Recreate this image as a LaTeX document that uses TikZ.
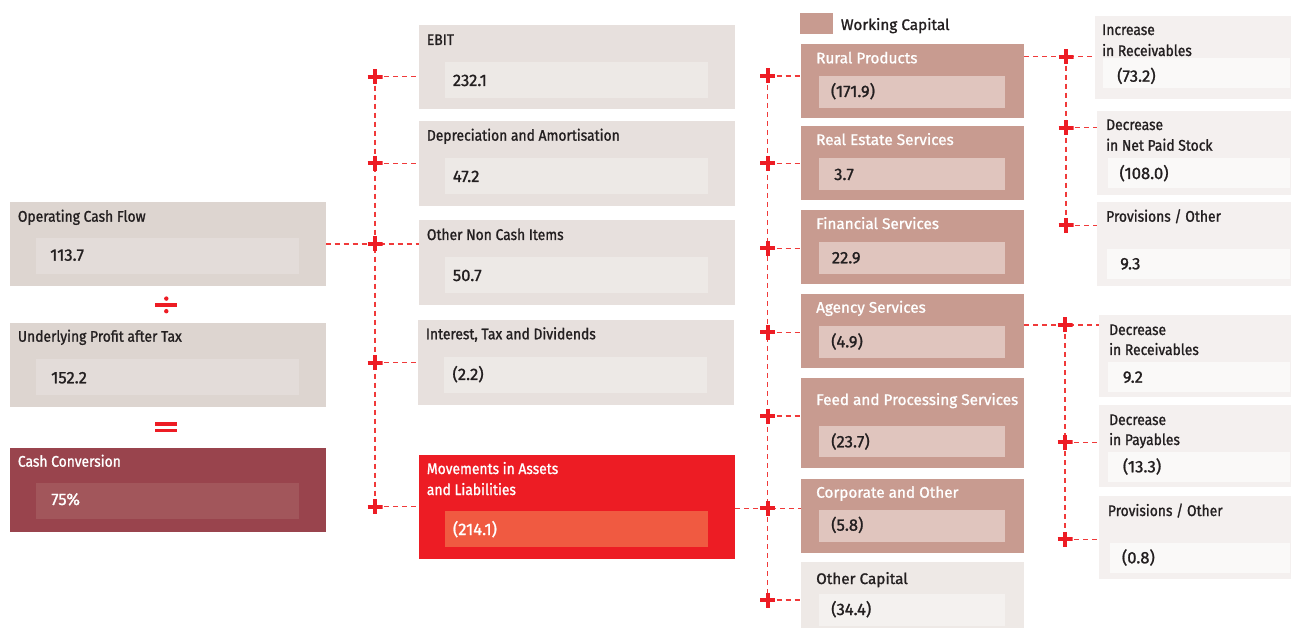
\documentclass[tikz,border=0pt]{standalone}
\usepackage{fontspec}
\setmainfont{Fira Sans}[FakeBold=1.2]
\newfontfamily\condfont[FakeStretch=0.9,FakeBold=1.2]{Fira Sans}
\newfontfamily\regfont[FakeBold=1.2]{Fira Sans}
\usetikzlibrary{backgrounds}
\definecolor{ink}{HTML}{231F20}
\definecolor{cL}{HTML}{DDD5D0}
\definecolor{cLi}{HTML}{E3DCD9}
\definecolor{cM}{HTML}{E7E0DD}
\definecolor{cMi}{HTML}{EDE9E6}
\definecolor{cCC}{HTML}{99444D}
\definecolor{cCCi}{HTML}{A2565B}
\definecolor{cMov}{HTML}{ED1C24}
\definecolor{cMovi}{HTML}{F05A41}
\definecolor{cWC}{HTML}{C89B90}
\definecolor{cWCi}{HTML}{E0C5BE}
\definecolor{cOC}{HTML}{EEE9E6}
\definecolor{cOCi}{HTML}{F4F1EF}
\definecolor{cR}{HTML}{F4F0EF}
\definecolor{cRi}{HTML}{FAF9F8}
\definecolor{dashred}{HTML}{F03A3A}
\definecolor{plusred}{HTML}{ED1C24}
\newcommand\bxx[6]{\node[boxn,#2,minimum width={(#5)-(#3)},minimum height={(#6)-(#4)}] (#1) at (#3,#4) {};}
\newcommand\lbl[5]{\node[#2] (#1) at (#3,#4) {#5};}
\begin{document}
\begin{tikzpicture}[x=1pt,y=-1pt,
  boxn/.style={anchor=north west,inner sep=0pt,outer sep=0pt,draw=none},
  tl/.style={anchor=base west,inner sep=0pt,font=\condfont\fontsize{15.4}{17}\selectfont,text=ink},
  wl/.style={anchor=base west,inner sep=0pt,font=\regfont\fontsize{15.3}{17}\selectfont,text=white},
  vl/.style={anchor=base west,inner sep=0pt,font=\regfont\fontsize{16.6}{18}\selectfont,text=ink},
  wt/.style={text=white},
  conn/.style={draw=dashred,line width=1.3pt,dash pattern=on 5pt off 4pt},
  plusn/.style={minimum size=15pt,inner sep=0pt,outer sep=0pt,
    path picture={\draw[line width=4pt,plusred] (path picture bounding box.west)--(path picture bounding box.east)
      (path picture bounding box.north)--(path picture bounding box.south);}}]
\useasboundingbox (0,0) rectangle (1291,628);
% ---------- left column
\bxx{ocf}{fill=cL}{10}{202}{325.7}{285.7}
\bxx{ocfi}{fill=cLi}{36}{238}{299}{273.7}
\lbl{ocft}{tl}{17.7}{221.7}{Operating Cash Flow}
\lbl{ocfv}{vl}{50}{260.7}{113.7}
\bxx{upat}{fill=cL}{10}{323}{325.7}{406.7}
\bxx{upati}{fill=cLi}{36}{359}{299}{394.7}
\lbl{upatt}{tl}{17.7}{341.7}{Underlying Profit after Tax}
\lbl{upatv}{vl}{51}{383.3}{152.2}
\bxx{cc}{fill=cCC}{10}{448}{325.7}{531.7}
\bxx{cci}{fill=cCCi}{36}{483}{299}{519}
\lbl{cct}{tl,wt}{17.7}{466.7}{Cash Conversion}
\lbl{ccv}{vl,wt}{51}{505}{75\%}
% operators
\fill[plusred] (155.3,303.4) rectangle (177.3,306.6);
\fill[plusred] (166.3,298.6) circle (2.2pt);
\fill[plusred] (166.3,311.2) circle (2.2pt);
\fill[plusred] (155.3,422.3) rectangle (177.3,425.7);
\fill[plusred] (155.3,428.8) rectangle (177.3,432.2);
% ---------- middle column
\bxx{ebit}{fill=cM}{418.7}{25}{735}{109.3}
\bxx{ebiti}{fill=cMi}{445}{62}{708}{97.7}
\lbl{ebitt}{tl}{426.7}{45}{EBIT}
\lbl{ebitv}{vl}{452.7}{86}{232.1}
\bxx{dep}{fill=cM}{418.7}{121}{735}{205.7}
\bxx{depi}{fill=cMi}{445}{158}{708}{193.7}
\lbl{dept}{tl}{426.7}{140.7}{Depreciation and Amortisation}
\lbl{depv}{vl}{452.7}{182}{47.2}
\bxx{onci}{fill=cM}{418.7}{220}{735}{304.7}
\bxx{oncii}{fill=cMi}{445}{257}{708}{292.7}
\lbl{oncit}{tl}{426.7}{240}{Other Non Cash Items}
\lbl{onciv}{vl}{452.7}{281}{50.7}
\bxx{itd}{fill=cM}{418}{320}{734}{404.7}
\bxx{itdi}{fill=cMi}{444}{357}{707}{392.7}
\lbl{itdt}{tl}{425.7}{339.3}{Interest, Tax and Dividends}
\lbl{itdv}{vl}{452.3}{380}{(2.2)}
\bxx{mal}{fill=cMov}{418.7}{455}{735}{558.7}
\bxx{mali}{fill=cMovi}{445}{511}{708}{546.7}
\lbl{malt1}{tl,wt}{426.7}{474}{Movements in Assets}
\lbl{malt2}{tl,wt}{426.7}{495}{and Liabilities}
\lbl{malv}{vl,wt}{452.7}{535}{(214.1)}
% ---------- working capital column
\bxx{leg}{fill=cWC}{800}{13.3}{832.7}{34.3}
\lbl{legt}{wl,text=ink}{840.7}{30}{Working Capital}
\bxx{rp}{fill=cWC}{801}{44}{1024}{117.7}
\bxx{rpi}{fill=cWCi}{819}{76}{1005}{107.7}
\lbl{rpt}{wl}{816}{63.3}{Rural Products}
\lbl{rpv}{vl}{830.7}{97}{(171.9)}
\bxx{res}{fill=cWC}{801}{126}{1024}{199.7}
\bxx{resi}{fill=cWCi}{819}{158}{1005}{189.7}
\lbl{rest}{wl}{816}{145}{Real Estate Services}
\lbl{resv}{vl}{834}{180}{3.7}
\bxx{fs}{fill=cWC}{801}{210}{1024}{283.7}
\bxx{fsi}{fill=cWCi}{819}{242}{1005}{273.7}
\lbl{fst}{wl}{816}{229}{Financial Services}
\lbl{fsv}{vl}{831.7}{263.3}{22.9}
\bxx{as}{fill=cWC}{801}{294}{1024}{367.7}
\bxx{asi}{fill=cWCi}{819}{326}{1005}{357.7}
\lbl{ast}{wl}{816}{312.7}{Agency Services}
\lbl{asv}{vl}{831}{347.3}{(4.9)}
\bxx{fps}{fill=cWC}{801}{378}{1024}{468.3}
\bxx{fpsi}{fill=cWCi}{819}{426}{1005}{457.3}
\lbl{fpst}{wl}{816}{405}{Feed and Processing Services}
\lbl{fpsv}{vl}{831}{447.3}{(23.7)}
\bxx{co}{fill=cWC}{801}{479}{1024}{552.7}
\bxx{coi}{fill=cWCi}{819}{510}{1005}{541.7}
\lbl{cot}{wl}{816}{497.7}{Corporate and Other}
\lbl{cov}{vl}{831}{530.7}{(5.8)}
\bxx{oc}{fill=cOC}{801}{562}{1024}{628}
\bxx{oci}{fill=cOCi}{819}{594}{1005}{626}
\lbl{oct}{wl,text=ink}{816}{584}{Other Capital}
\lbl{ocv}{vl}{831}{615}{(34.4)}
% ---------- right column
\bxx{inc}{fill=cR}{1095}{16}{1291}{98.7}
\bxx{inci}{fill=cRi}{1103.3}{58.3}{1290}{87.7}
\lbl{inct1}{tl}{1102}{35}{Increase}
\lbl{inct2}{tl}{1102}{56}{in Receivables}
\lbl{incv}{vl}{1117}{81.7}{(73.2)}
\bxx{dnps}{fill=cR}{1097}{111}{1291}{194.7}
\bxx{dnpsi}{fill=cRi}{1107.7}{158}{1290}{187.7}
\lbl{dnpst1}{tl}{1106}{130}{Decrease}
\lbl{dnpst2}{tl}{1106}{150.7}{in Net Paid Stock}
\lbl{dnpsv}{vl}{1119.3}{179}{(108.0)}
\bxx{pva}{fill=cR}{1097}{202}{1291}{285.7}
\bxx{pvai}{fill=cRi}{1106.7}{248.7}{1290}{278.7}
\lbl{pvat}{tl}{1106}{221.7}{Provisions / Other}
\lbl{pvav}{vl}{1120}{269.3}{9.3}
\bxx{drec}{fill=cR}{1099}{315}{1291}{396.7}
\bxx{dreci}{fill=cRi}{1107.7}{362}{1290}{391.7}
\lbl{drect1}{tl}{1109}{335}{Decrease}
\lbl{drect2}{tl}{1109}{355}{in Receivables}
\lbl{drecv}{vl}{1122.7}{382.7}{9.2}
\bxx{dpay}{fill=cR}{1099}{405.3}{1291}{486.7}
\bxx{dpayi}{fill=cRi}{1107.7}{452}{1290}{481.7}
\lbl{dpayt1}{tl}{1109}{425}{Decrease}
\lbl{dpayt2}{tl}{1109}{445}{in Payables}
\lbl{dpayv}{vl}{1122.7}{472.3}{(13.3)}
\bxx{pvb}{fill=cR}{1099}{496}{1291}{579.3}
\bxx{pvbi}{fill=cRi}{1110}{543}{1290}{572.7}
\lbl{pvbt}{tl}{1107.7}{516}{Provisions / Other}
\lbl{pvbv}{vl}{1121.7}{563.3}{(0.8)}
% ---------- plus nodes
\node[plusn] (pl1) at (375,76.7) {};
\node[plusn] (pl2) at (375,163.3) {};
\node[plusn] (pl3) at (375,244) {};
\node[plusn] (pl4) at (375,362.7) {};
\node[plusn] (pl5) at (375,506.7) {};
\node[plusn] (pm1) at (767.7,76) {};
\node[plusn] (pm2) at (767.7,163.3) {};
\node[plusn] (pm3) at (767.7,248.3) {};
\node[plusn] (pm4) at (767.7,332.3) {};
\node[plusn] (pm5) at (767.7,416) {};
\node[plusn] (pm6) at (767.7,508.3) {};
\node[plusn] (pm7) at (767.7,600) {};
\node[plusn] (pr1) at (1066,56.7) {};
\node[plusn] (pr2) at (1066,127.7) {};
\node[plusn] (pr3) at (1066,225.3) {};
\node[plusn] (ps1) at (1065,325) {};
\node[plusn] (ps2) at (1065,442.3) {};
\node[plusn] (ps3) at (1065,539.3) {};
% ---------- connectors
\begin{scope}[on background layer]
\draw[conn] (pl1.center) -- (pl5.center);
\draw[conn] (ocf.east |- pl3) -- (onci.west |- pl3);
\draw[conn] (pl1.center) -- (pl1 -| ebit.west);
\draw[conn] (pl2.center) -- (pl2 -| dep.west);
\draw[conn] (pl4.center) -- (pl4 -| itd.west);
\draw[conn] (pl5.center) -- (pl5 -| mal.west);
\draw[conn] (pm1.center) -- (pm7.center);
\draw[conn] (mal.east |- pm6) -- (co.west |- pm6);
\draw[conn] (pm1.center) -- (pm1 -| rp.west);
\draw[conn] (pm2.center) -- (pm2 -| res.west);
\draw[conn] (pm3.center) -- (pm3 -| fs.west);
\draw[conn] (pm4.center) -- (pm4 -| as.west);
\draw[conn] (pm5.center) -- (pm5 -| fps.west);
\draw[conn] (pm7.center) -- (pm7 -| oc.west);
\draw[conn] (pr1.center) -- (pr3.center);
\draw[conn] (rp.east |- pr1) -- (inc.west |- pr1);
\draw[conn] (pr2.center) -- (pr2 -| dnps.west);
\draw[conn] (pr3.center) -- (pr3 -| pva.west);
\draw[conn] (ps1.center) -- (ps3.center);
\draw[conn] (as.east |- ps1) -- (drec.west |- ps1);
\draw[conn] (ps2.center) -- (ps2 -| dpay.west);
\draw[conn] (ps3.center) -- (ps3 -| pvb.west);
\end{scope}
\end{tikzpicture}
\end{document}
